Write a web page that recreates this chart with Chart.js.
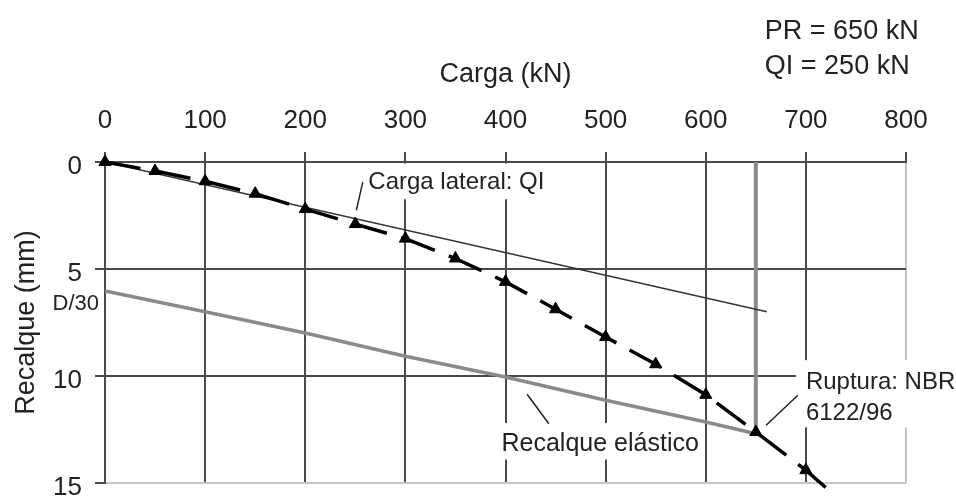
<!DOCTYPE html>
<html>
<head>
<meta charset="utf-8">
<script src="https://cdn.jsdelivr.net/npm/chart.js@4.4.0/dist/chart.umd.min.js"></script>
<style>
  html, body { margin: 0; background: #fff; }
  #wrap { width: 956px; height: 499px; }
</style>
</head>
<body>
<div id="wrap"><canvas id="chart"></canvas></div>
<script>
// load test curve (kN -> mm)
const loads = [0, 50, 100, 150, 200, 250, 300, 350, 400, 450, 500, 550, 600, 650, 700, 721];
const settlements = [0, 0.42, 0.9, 1.48, 2.2, 2.9, 3.58, 4.51, 5.6, 6.88, 8.18, 9.45, 10.88, 12.62, 14.4, 15.26];
// lateral load line
const lateralLoads = [0, 661];
const lateralSettle = [0, 7.0];
// elastic settlement line (offset D/30)
const elasticLoads = [0, 100, 200, 300, 400, 500, 600, 650];
const elasticSettle = [6.03, 7.0, 7.99, 9.08, 10.05, 11.13, 12.15, 12.7];
// rupture load
const ruptureLoad = 650;
const ruptureSettle = 12.62;
// axis ticks
const xTicks = [0, 100, 200, 300, 400, 500, 600, 700, 800];
const yTicks = [0, 5, 10, 15];

const FONT = '"Liberation Sans", Arial, sans-serif';
const DARK = '#4a4a4a';
const LIGHT = '#c4c4c4';

const toPts = (xs, ys) => xs.map((x, i) => ({ x: x, y: ys[i] }));

//text notes drawn on top, in data units
const notes = [
  { text: 'Carga lateral: QI', x: 263, y: 0.93, size: 24, box: [259, 0.07, 444, 1.74] },
  { text: 'Recalque elástico', x: 396, y: 13.16, size: 25, box: [392, 12.2, 597, 13.9] },
  { text: 'Ruptura: NBR', x: 700, y: 10.28, size: 24, box: [690, 9.26, 860, 12.4] },
  { text: '6122/96', x: 700, y: 11.74, size: 24 },
];
const leaders = [
  [251, 2.26, 257.5, 0.93],
  [421.6, 10.85, 443.3, 12.23],
  [660.3, 12.3, 692, 10.9],
];

const notesPlugin = {
  id: 'notes',
  beforeDatasetsDraw(chart) {
    const { ctx, scales: { x, y } } = chart;
    ctx.save();
    ctx.fillStyle = '#fff';
    notes.forEach(n => {
      if (!n.box) return;
      const x0 = x.getPixelForValue(n.box[0]);
      const y0 = y.getPixelForValue(n.box[1]);
      const x1 = x.getPixelForValue(n.box[2]);
      const y1 = y.getPixelForValue(n.box[3]);
      ctx.fillRect(x0, y0, x1 - x0, y1 - y0);
    });
    ctx.restore();
  },
  afterDraw(chart) {
    const { ctx, scales: { x, y } } = chart;
    ctx.save();
    ctx.fillStyle = '#222';
    ctx.textBaseline = 'middle';
    notes.forEach(n => {
      ctx.font = n.size + 'px ' + FONT;
      ctx.fillText(n.text, x.getPixelForValue(n.x), y.getPixelForValue(n.y));
    });
    // D/30 next to the axis
    ctx.font = '22px ' + FONT;
    ctx.textAlign = 'right';
    ctx.fillText('D/30', x.getPixelForValue(-6), y.getPixelForValue(6.62));
    // PR and QI in the corner
    ctx.font = '27px ' + FONT;
    ctx.textAlign = 'left';
    ctx.fillText('PR = 650 kN', x.getPixelForValue(659), 32);
    ctx.fillText('QI = 250 kN', x.getPixelForValue(659), 67);
    // leader lines
    ctx.strokeStyle = '#222';
    ctx.lineWidth = 1.5;
    leaders.forEach(l => {
      ctx.beginPath();
      ctx.moveTo(x.getPixelForValue(l[0]), y.getPixelForValue(l[1]));
      ctx.lineTo(x.getPixelForValue(l[2]), y.getPixelForValue(l[3]));
      ctx.stroke();
    });
    ctx.restore();
  }
};

const chart = new Chart(document.getElementById('chart'), {
  type: 'scatter',
  plugins: [notesPlugin],
  data: {
    datasets: [
      {
        //vertical rupture line
        data: [{ x: ruptureLoad, y: 0 }, { x: ruptureLoad, y: ruptureSettle }],
        showLine: true,
        borderColor: '#8a8a8a',
        borderWidth: 4,
        pointRadius: 0,
        order: 3,
      },
      {
        data: toPts(elasticLoads, elasticSettle),
        showLine: true,
        borderColor: '#8a8a8a',
        borderWidth: 3.5,
        pointRadius: 0,
        order: 2,
      },
      {
        data: toPts(lateralLoads, lateralSettle),
        showLine: true,
        borderColor: '#333',
        borderWidth: 1.5,
        pointRadius: 0,
        order: 1,
      },
      {
        data: toPts(loads, settlements),
        showLine: true,
        borderColor: '#000',
        borderWidth: 3.5,
        borderDash: [36, 15],
        pointStyle: 'triangle',
        pointRadius: loads.map((_, i) => (i === loads.length - 1 ? 0 : 7)),
        pointBackgroundColor: '#000',
        pointBorderColor: '#000',
        pointBorderWidth: 1,
        clip: false,
        order: 0,
      },
    ],
  },
  options: {
    responsive: true,
    maintainAspectRatio: false,
    animation: false,
    layout: { padding: { right: 50, bottom: 16 } },
    plugins: {
      legend: { display: false },
      tooltip: { enabled: false },
    },
    scales: {
      x: {
        type: 'linear',
        position: 'top',
        min: 0,
        max: 800,
        afterFit: (s) => { s.height = 162; s.paddingLeft = 0; s.paddingRight = 0; },
        afterBuildTicks: (s) => { s.ticks = xTicks.map(v => ({ value: v })); },
        grid: {
          color: (c) => (c.tick && c.tick.value === 800 ? LIGHT : DARK),
          tickColor: DARK,
          lineWidth: 2,
          tickLength: 10,
        },
        border: { color: DARK, width: 2 },
        ticks: {
          color: '#222',
          padding: 16,
          font: { family: FONT, size: 26 },
        },
        title: {
          display: true,
          text: 'Carga (kN)',
          color: '#222',
          font: { family: FONT, size: 27 },
          padding: { top: 58 },
        },
      },
      y: {
        type: 'linear',
        reverse: true,
        min: 0,
        max: 15,
        afterFit: (s) => { s.width = 105; s.paddingTop = 0; s.paddingBottom = 0; },
        afterBuildTicks: (s) => { s.ticks = yTicks.map(v => ({ value: v })); },
        grid: {
          color: (c) => (c.tick && c.tick.value === 15 ? LIGHT : DARK),
          tickColor: DARK,
          lineWidth: 2,
          tickLength: 10,
        },
        border: { color: DARK, width: 2 },
        ticks: {
          color: '#222',
          padding: 13,
          labelOffset: 5,
          font: { family: FONT, size: 26 },
        },
        title: {
          display: true,
          text: 'Recalque (mm)',
          color: '#222',
          font: { family: FONT, size: 27 },
          padding: { top: 10 },
        },
      },
    },
  },
});
</script>
</body>
</html>
